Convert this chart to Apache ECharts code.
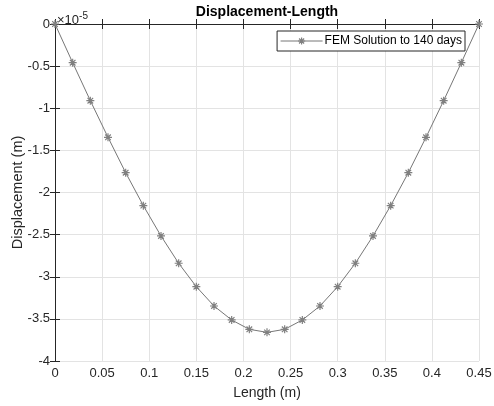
<!DOCTYPE html>
<html>
<head>
<meta charset="utf-8">
<script src="https://cdn.jsdelivr.net/npm/echarts@6/dist/echarts.min.js"></script>
<style>html,body{margin:0;padding:0;background:#fff;}#c{width:494px;height:406px;}</style>
</head>
<body>
<div id="c"></div>
<script>
// Data (displacement in units of 1e-5 m)
const lengths = [0, 0.01875, 0.0375, 0.05625, 0.075, 0.09375, 0.1125, 0.13125, 0.15, 0.16875, 0.1875, 0.20625, 0.225,
  0.24375, 0.2625, 0.28125, 0.3, 0.31875, 0.3375, 0.35625, 0.375, 0.39375, 0.4125, 0.43125, 0.45];
const displacement = [0, -0.459, -0.91, -1.345, -1.765, -2.156, -2.516, -2.84, -3.118, -3.347, -3.513, -3.624, -3.66,
  -3.624, -3.513, -3.347, -3.118, -2.84, -2.516, -2.156, -1.765, -1.345, -0.91, -0.459, 0];
const seriesName = 'FEM Solution to 140 days';
const xTicks = [0, 0.05, 0.1, 0.15, 0.2, 0.25, 0.3, 0.35, 0.4, 0.45];
const yTicks = [0, -0.5, -1, -1.5, -2, -2.5, -3, -3.5, -4];

const FONT = '"Liberation Sans", Arial, Helvetica, sans-serif';
const AX = '#262626';
const GRID = '#e3e3e3';
const asterisk = 'path://M5,0L5,10M0,5L10,5M1.5,1.5L8.5,8.5M1.5,8.5L8.5,1.5';

const chart = echarts.init(document.getElementById('c'), null, {renderer: 'canvas'});
const baseX = {
  type: 'value', min: 0, max: 0.45, interval: 0.05,
  axisLine: {show: true, lineStyle: {color: AX, width: 1}},
  axisTick: {show: true, inside: true, length: 5, lineStyle: {color: AX}},
  splitLine: {show: false}
};
const baseY = {
  type: 'value', min: -4, max: 0, interval: 0.5,
  axisLine: {show: true, lineStyle: {color: AX, width: 1}},
  axisTick: {show: true, inside: true, length: 5, lineStyle: {color: AX}},
  splitLine: {show: false}
};
chart.setOption({
  animation: false,
  backgroundColor: '#fff',
  textStyle: {fontFamily: FONT},
  grid: {left: 55, right: 15, top: 24, bottom: 45, containLabel: false, outerBoundsMode: 'none'},
  xAxis: [
    Object.assign({}, baseX, {
      position: 'bottom',
      name: 'Length (m)', nameLocation: 'middle', nameGap: 25, nameMoveOverlap: false,
      nameTextStyle: {fontSize: 14, color: AX, fontFamily: FONT},
      splitLine: {show: true, lineStyle: {color: GRID, width: 1}},
      axisLabel: {fontSize: 13, color: AX, fontFamily: FONT, margin: 6,
        formatter: v => { const t = xTicks.find(k => Math.abs(k - v) < 1e-9); return t === undefined ? '' : String(t); }}
    }),
    Object.assign({}, baseX, {position: 'top', axisLabel: {show: false}})
  ],
  yAxis: [
    Object.assign({}, baseY, {
      position: 'left',
      name: 'Displacement (m)', nameLocation: 'middle', nameGap: 30, nameMoveOverlap: false,
      nameTextStyle: {fontSize: 14.5, color: AX, fontFamily: FONT},
      splitLine: {show: true, lineStyle: {color: GRID, width: 1}},
      axisLabel: {fontSize: 13, color: AX, fontFamily: FONT, margin: 5,
        formatter: v => { const t = yTicks.find(k => Math.abs(k - v) < 1e-9); return t === undefined ? '' : String(t); }}
    }),
    Object.assign({}, baseY, {position: 'right', axisLabel: {show: false}})
  ],
  legend: {
    right: 29, top: 31,
    orient: 'horizontal',
    backgroundColor: '#fff',
    borderColor: AX, borderWidth: 1, borderRadius: 0,
    padding: [4, 3, 4, 3],
    itemWidth: 42, itemHeight: 9, itemGap: 2,
    itemStyle: {color: 'rgba(0,0,0,0)', borderColor: '#808080', borderWidth: 1.2},
    lineStyle: {color: '#777', width: 1},
    textStyle: {fontSize: 12, color: '#000', fontFamily: FONT, padding: [0, 0, 0, -3]},
    data: [seriesName]
  },
  graphic: [
    {type: 'text', style: {text: 'Displacement-Length', x: 267, y: 5, textAlign: 'center',
      font: 'bold 14px ' + FONT, fill: '#000'}},
    {type: 'text', style: {
      text: '×10{s|-5}', x: 57, y: 11,
      font: '13px ' + FONT, fill: AX,
      rich: {s: {fontSize: 10, fontFamily: FONT, verticalAlign: 'top', padding: [0, 0, 8, 0], fill: AX}}
    }}
  ],
  series: [{
    name: seriesName,
    type: 'line',
    data: lengths.map((x, i) => [x, displacement[i]]),
    xAxisIndex: 0, yAxisIndex: 0,
    symbol: asterisk, symbolSize: 8, showAllSymbol: true,
    lineStyle: {color: '#777', width: 1},
    itemStyle: {color: 'rgba(0,0,0,0)', borderColor: '#808080', borderWidth: 1.2},
    emphasis: {disabled: true},
    clip: false
  }]
});
</script>
</body>
</html>
